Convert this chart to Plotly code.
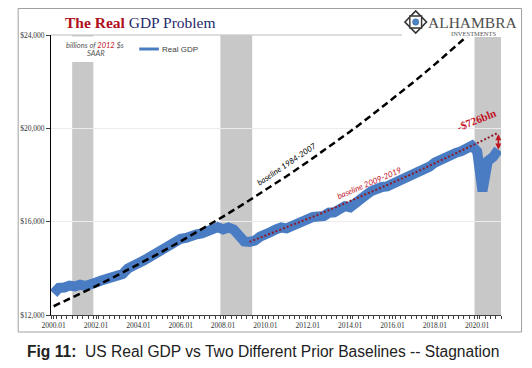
import plotly.graph_objects as go

# ---------------- data ----------------
quarters = [f"{y}Q{q}" for y in range(2000, 2021) for q in range(1, 5)] + ["2021Q1"]
real_gdp = [
    12924, 13161, 13178, 13261, 13223, 13300, 13245, 13281,
    13397, 13478, 13538, 13559, 13634, 13752, 13985, 14146,
    14221, 14330, 14465, 14610, 14772, 14840, 14972, 15067,
    15267, 15303, 15326, 15457, 15493, 15582, 15667, 15762,
    15671, 15752, 15667, 15328, 15156, 15134, 15189, 15356,
    15415, 15557, 15672, 15751, 15713, 15825, 15821, 16004,
    16129, 16199, 16221, 16239, 16383, 16403, 16532, 16664,
    16617, 16842, 17047, 17143, 17306, 17423, 17486, 17514,
    17613, 17668, 17764, 17876, 17977, 18054, 18186, 18359,
    18531, 18654, 18752, 18814, 18950, 19021, 19142, 19254,
    19011, 17303, 18597, 18768, 19088,
]

base1_years = [2000, 2001, 2002, 2003, 2004, 2005, 2006, 2007, 2008, 2009, 2010,
               2011, 2012, 2013, 2014, 2015, 2016, 2017, 2018, 2019, 2020]
base1_vals = [12375, 12800, 13241, 13696, 14167, 14654, 15158, 15679, 16218, 16775, 17352,
              17949, 18566, 19204, 19864, 20547, 21254, 21984, 22740, 23522, 24331]

base2_years = [2009.25, 2010.25, 2011.25, 2012.25, 2013.25, 2014.25, 2015.25,
               2016.25, 2017.25, 2018.25, 2019.25, 2020.25, 2021.0]
base2_vals = [15135, 15486, 15845, 16212, 16588, 16973, 17366,
              17769, 18181, 18603, 19034, 19476, 19814]

recessions = [("2001Q1", "2001Q4"), ("2008Q1", "2009Q2"), ("2020Q1", "2021Q1")]

x_tick_years = [2000, 2002, 2004, 2006, 2008, 2010, 2012, 2014, 2016, 2018, 2020]
x_tick_text = [f"{y}.01" for y in x_tick_years]
y_tick_vals = [12000, 16000, 20000, 24000]
y_tick_text = ["$12,000", "$16,000", "$20,000", "$24,000"]


def qpos(lbl):
    y, q = lbl.split("Q")
    return int(y) + (int(q) - 1) / 4


qx = [qpos(q) for q in quarters]

# ---------------- geometry helpers ----------------
OFF = 8                      # page body margin of the html page
W, H = 532 - OFF, 368 - OFF
ML, MR, MT, MB = 34, 31, 27, 53
PW, PH = W - ML - MR, H - MT - MB


def px(x):   # screen pixel -> paper
    return (x - OFF - ML) / PW


def py(y):
    return (H - MB - (y - OFF)) / PH


RED = "#c0121f"
BLUE = "#4a7cc4"

fig = go.Figure()

fig.add_trace(go.Scatter(x=qx, y=real_gdp, mode="lines", name="Real GDP",
                         line=dict(color=BLUE, width=10), showlegend=False))
fig.add_trace(go.Scatter(x=base1_years, y=base1_vals, mode="lines",
                         line=dict(color="black", width=2.5, dash="7px,4px"), showlegend=False))
fig.add_trace(go.Scatter(x=base2_years, y=base2_vals, mode="lines",
                         line=dict(color="#8e1b2a", width=2, dash="2px,2px"), showlegend=False))

shapes = []
for a, b in recessions:
    shapes.append(dict(type="rect", xref="x", yref="y", x0=qpos(a) - 0.125, x1=qpos(b) + 0.125,
                       y0=12000, y1=24000, fillcolor="#c8c8c8", line=dict(width=0), layer="below"))
shapes.append(dict(type="line", xref="paper", yref="paper", x0=0, x1=1, y0=1, y1=1,
                   line=dict(color="#bdbdbd", width=1.2), layer="below"))
shapes.append(dict(type="rect", xref="paper", yref="paper", x0=px(55), x1=px(120), y0=py(62), y1=py(36.5),
                   fillcolor="white", line=dict(width=0), layer="above"))
shapes.append(dict(type="rect", xref="paper", yref="paper", x0=px(400), x1=px(521), y0=py(37), y1=py(9),
                   fillcolor="white", line=dict(width=0), layer="above"))
# outer frame
shapes.append(dict(type="rect", xref="paper", yref="paper", x0=px(8.5), x1=px(522), y0=py(332), y1=py(8.5),
                   line=dict(color="#a0a0a0", width=1), fillcolor="rgba(0,0,0,0)", layer="above"))
# legend line
shapes.append(dict(type="line", xref="paper", yref="paper", x0=px(132), x1=px(152), y0=py(49), y1=py(49),
                   line=dict(color=BLUE, width=3), layer="above"))

# logo star
cx, cy, r = 414, 22, 11


def path(pts):
    return "M " + " L ".join(f"{px(a)},{py(b)}" for a, b in pts) + " Z"


shapes.append(dict(type="path", xref="paper", yref="paper",
                   path=path([(cx - r, cy), (cx, cy - r), (cx + r, cy), (cx, cy + r)]),
                   line=dict(color="#333333", width=1.6), fillcolor="white", layer="above"))
s = 6
shapes.append(dict(type="path", xref="paper", yref="paper",
                   path=path([(cx - s, cy - s), (cx + s, cy - s), (cx + s, cy + s), (cx - s, cy + s)]),
                   line=dict(color="#333333", width=1.4), fillcolor="white", layer="above"))
c = 3.2
shapes.append(dict(type="circle", xref="paper", yref="paper", x0=px(cx - c), x1=px(cx + c),
                   y0=py(cy + c), y1=py(cy - c), fillcolor="#4a86c5", line=dict(color="#2f5f95", width=0.5),
                   layer="above"))

annotations = [
    dict(text="<b>The Real</b> <span style='color:#1f2a6b'>GDP Problem</span>", x=px(133), y=py(23),
         xref="paper", yref="paper", showarrow=False, xanchor="center", yanchor="middle",
         font=dict(family="Liberation Serif", size=15.5, color="#b0101c")),
    dict(text="ALHAMBRA", x=px(472), y=py(22.5), xref="paper", yref="paper", showarrow=False,
         xanchor="center", yanchor="middle", font=dict(family="Liberation Serif", size=15.5, color="#4d4d4d")),
    dict(text="INVESTMENTS", x=px(473), y=py(33), xref="paper", yref="paper", showarrow=False,
         xanchor="center", yanchor="middle", font=dict(family="Liberation Serif", size=6.5, color="#555555")),
    dict(text="<i>billions of <span style='color:#c0121f'>2012</span> $s</i>", x=px(87), y=py(45),
         xref="paper", yref="paper", showarrow=False, xanchor="center", yanchor="middle",
         font=dict(family="Lato", size=7.5, color="#555555")),
    dict(text="<i>SAAR</i>", x=px(88), y=py(53.5), xref="paper", yref="paper", showarrow=False,
         xanchor="center", yanchor="middle", font=dict(family="Lato", size=7.5, color="#555555")),
    dict(text="Real GDP", x=px(153), y=py(49), xref="paper", yref="paper", showarrow=False,
         xanchor="left", yanchor="middle", font=dict(family="Liberation Sans", size=8, color="#404040")),
    dict(text="<i>baseline 1984-2007</i>", x=2011.0, y=18470, xref="x", yref="y", showarrow=False,
         textangle=-34, font=dict(family="Lato", size=8, color="black")),
    dict(text="<i>baseline 2009-2019</i>", x=2014.9, y=17640, xref="x", yref="y", showarrow=False,
         textangle=-23, font=dict(family="Lato", size=8, color=RED)),
    dict(text="<b>-$726bln</b>", x=2019.95, y=20360, xref="x", yref="y", showarrow=False,
         textangle=-22, font=dict(family="Liberation Serif", size=11, color=RED)),
    dict(x=qpos("2021Q1"), y=real_gdp[-1], ax=qpos("2021Q1"), ay=base2_vals[-1],
         xref="x", yref="y", axref="x", ayref="y", text="", showarrow=True,
         arrowhead=2, startarrowhead=2, arrowside="end+start", arrowsize=0.8, arrowwidth=1.5,
         arrowcolor=RED),
    dict(text="<b>Fig 11:</b>\u00a0\u00a0US Real GDP vs Two Different Prior Baselines -- Stagnation",
         x=px(258), y=py(351), xref="paper", yref="paper", showarrow=False,
         xanchor="center", yanchor="middle", font=dict(family="Liberation Sans", size=15.6, color="#222222")),
]

fig.update_layout(
    width=W, height=H,
    margin=dict(l=ML, r=MR, t=MT, b=MB),
    paper_bgcolor="white", plot_bgcolor="white",
    shapes=shapes, annotations=annotations,
    xaxis=dict(range=[1999.875, 2021.125], tickvals=x_tick_years, ticktext=x_tick_text,
               showgrid=False, zeroline=False, showline=True, linecolor="#404040", linewidth=1,
               ticks="outside", ticklen=3, tickcolor="#404040",
               minor=dict(tick0=1999.875, dtick=0.25, ticks="outside", ticklen=3, tickcolor="#404040"),
               tickfont=dict(family="Liberation Serif", size=7.5, color="#333333")),
    yaxis=dict(range=[12000, 24000], tickvals=y_tick_vals, ticktext=y_tick_text,
               showgrid=True, gridcolor="#ececec", zeroline=False, showline=True,
               linecolor="black", linewidth=1, ticks="outside", ticklen=4, tickcolor="#404040",
               tickfont=dict(family="Liberation Serif", size=7.5, color="#333333")),
)

fig.write_html("out.html")
